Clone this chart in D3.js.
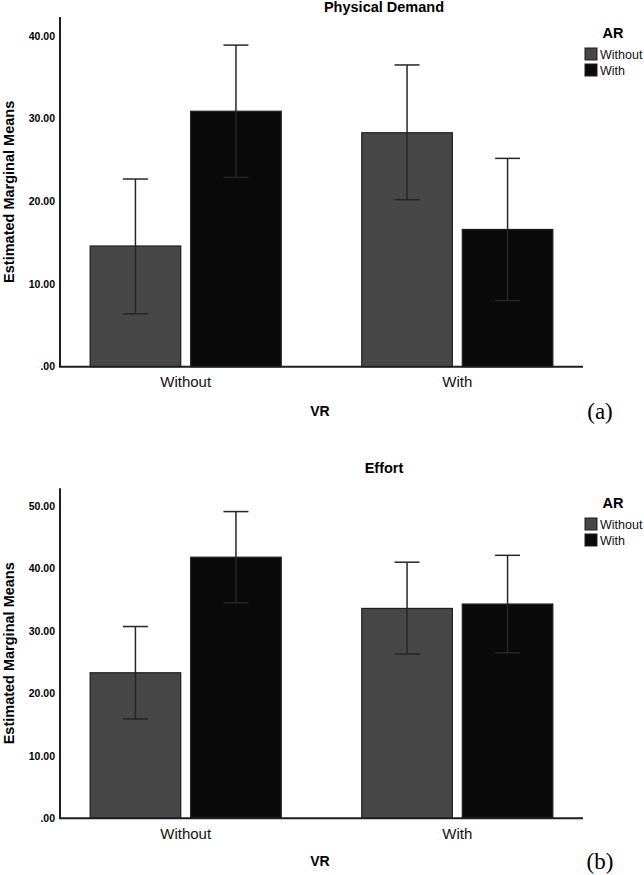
<!DOCTYPE html>
<html><head><meta charset="utf-8">
<script src="https://cdn.jsdelivr.net/npm/d3@7"></script>
<style>body{margin:0;background:#fff}svg{display:block}text{font-family:"Liberation Sans",Arial,sans-serif}</style>
</head><body>
<svg id="c" width="644" height="875"></svg>
<script>
// ---- data ----
const vrCategories = ["Without", "With"];
const arCategories = ["Without", "With"];

// Physical Demand (a)
const pdWithoutAR = [14.6, 28.3];
const pdWithAR = [30.9, 16.6];
const pdWithoutARLow = [6.4, 20.2];
const pdWithoutARHigh = [22.7, 36.5];
const pdWithARLow = [22.9, 8.0];
const pdWithARHigh = [38.9, 25.2];
const pdTicks = [0, 10, 20, 30, 40];
const pdTickLabels = [".00", "10.00", "20.00", "30.00", "40.00"];

// Effort (b)
const efWithoutAR = [23.3, 33.6];
const efWithAR = [41.8, 34.3];
const efWithoutARLow = [15.9, 26.3];
const efWithoutARHigh = [30.7, 41.0];
const efWithARLow = [34.5, 26.5];
const efWithARHigh = [49.1, 42.1];
const efTicks = [0, 10, 20, 30, 40, 50];
const efTickLabels = [".00", "10.00", "20.00", "30.00", "40.00", "50.00"];

const svg = d3.select("#c");
const colors = d3.scaleOrdinal().domain(arCategories).range(["#474747", "#0a0a0a"]);

function panel(o) {
  const g = svg.append("g");
  const y = d3.scaleLinear().domain([0, o.ymax]).range([o.bottom, o.top]);
  const x0 = d3.scaleBand().domain(vrCategories).range([60, 583]).paddingInner(0.2965).paddingOuter(0.111);
  const x1 = d3.scaleBand().domain(arCategories).range([0, x0.bandwidth()]).paddingInner(0.099).paddingOuter(0);

  const rows = [];
  vrCategories.forEach((vr, i) => {
    rows.push({vr, ar: "Without", v: o.woAR[i], lo: o.woLo[i], hi: o.woHi[i]});
    rows.push({vr, ar: "With", v: o.wAR[i], lo: o.wLo[i], hi: o.wHi[i]});
  });

  // bars
  g.selectAll("rect.bar").data(rows).enter().append("rect")
    .attr("x", d => x0(d.vr) + x1(d.ar))
    .attr("y", d => y(d.v))
    .attr("width", x1.bandwidth())
    .attr("height", d => y(0) - y(d.v))
    .attr("fill", d => colors(d.ar))
    .attr("stroke", "#1e1e1e").attr("stroke-width", 1.2);

  // error bars
  const eb = g.selectAll("g.eb").data(rows).enter().append("g")
    .attr("stroke", "#262626").attr("stroke-width", 1.5);
  const cx = d => x0(d.vr) + x1(d.ar) + x1.bandwidth() / 2;
  eb.append("line").attr("x1", cx).attr("x2", cx).attr("y1", d => y(d.lo)).attr("y2", d => y(d.hi));
  eb.append("line").attr("x1", d => cx(d) - 12.5).attr("x2", d => cx(d) + 12.5).attr("y1", d => y(d.hi)).attr("y2", d => y(d.hi));
  eb.append("line").attr("x1", d => cx(d) - 12.5).attr("x2", d => cx(d) + 12.5).attr("y1", d => y(d.lo)).attr("y2", d => y(d.lo));

  // axes
  g.append("line").attr("x1", 60).attr("x2", 60).attr("y1", o.top).attr("y2", o.bottom)
    .attr("stroke", "#1e1e1e").attr("stroke-width", 2);
  g.append("line").attr("x1", 59).attr("x2", 583).attr("y1", o.bottom).attr("y2", o.bottom)
    .attr("stroke", "#1e1e1e").attr("stroke-width", 2);

  g.selectAll("text.tick").data(o.ticks).enter().append("text")
    .attr("x", 55).attr("y", d => y(d)).attr("dy", "0.36em")
    .attr("text-anchor", "end").attr("font-size", 10.5).attr("font-weight", "bold")
    .attr("fill", "#000")
    .text((d, i) => o.tickLabels[i]);

  g.selectAll("text.cat").data(vrCategories).enter().append("text")
    .attr("x", d => x0(d) + x0.bandwidth() / 2).attr("y", o.bottom + 15).attr("dy", "0.36em")
    .attr("text-anchor", "middle").attr("font-size", 15).attr("fill", "#111")
    .text(d => d);

  g.append("text").attr("x", 320).attr("y", o.vrY).attr("dy", "0.36em")
    .attr("text-anchor", "middle").attr("font-size", 14).attr("font-weight", "bold").attr("fill", "#000")
    .text("VR");

  g.append("text").attr("transform", `translate(14,${(o.top + o.bottom) / 2}) rotate(-90)`)
    .attr("text-anchor", "middle").attr("font-size", 14.5).attr("font-weight", "bold").attr("fill", "#000")
    .text("Estimated Marginal Means");

  g.append("text").attr("x", 384).attr("y", o.titleY).attr("dy", "0.36em")
    .attr("text-anchor", "middle").attr("font-size", 14.5).attr("font-weight", "bold").attr("fill", "#000")
    .text(o.title);

  // legend
  g.append("text").attr("x", 613).attr("y", o.legY).attr("dy", "0.36em")
    .attr("text-anchor", "middle").attr("font-size", 14.5).attr("font-weight", "bold").attr("fill", "#000")
    .text("AR");
  const lg = g.selectAll("g.leg").data(arCategories).enter().append("g")
    .attr("transform", (d, i) => `translate(585,${o.legY + 15 + i * 16})`);
  lg.append("rect").attr("width", 12).attr("height", 12)
    .attr("fill", d => colors(d)).attr("stroke", "#1e1e1e").attr("stroke-width", 1);
  lg.append("text").attr("x", 15).attr("y", 6).attr("dy", "0.36em")
    .attr("font-size", 12.5).attr("fill", "#111").text(d => d);

  g.append("text").attr("x", 600).attr("y", o.vrY).attr("dy", "0.33em")
    .attr("text-anchor", "middle").attr("font-size", 23).attr("fill", "#000")
    .style("font-family", '"Liberation Serif","Times New Roman",serif')
    .text(o.tag);
}

panel({title: "Physical Demand", tag: "(a)", ymax: 42.3, top: 17, bottom: 366.7,
  woAR: pdWithoutAR, wAR: pdWithAR, woLo: pdWithoutARLow, woHi: pdWithoutARHigh, wLo: pdWithARLow, wHi: pdWithARHigh,
  ticks: pdTicks, tickLabels: pdTickLabels, titleY: 7, legY: 33, vrY: 411});

panel({title: "Effort", tag: "(b)", ymax: 52.83, top: 488.3, bottom: 818.3,
  woAR: efWithoutAR, wAR: efWithAR, woLo: efWithoutARLow, woHi: efWithoutARHigh, wLo: efWithARLow, wHi: efWithARHigh,
  ticks: efTicks, tickLabels: efTickLabels, titleY: 468, legY: 503, vrY: 861});
</script>
</body></html>
